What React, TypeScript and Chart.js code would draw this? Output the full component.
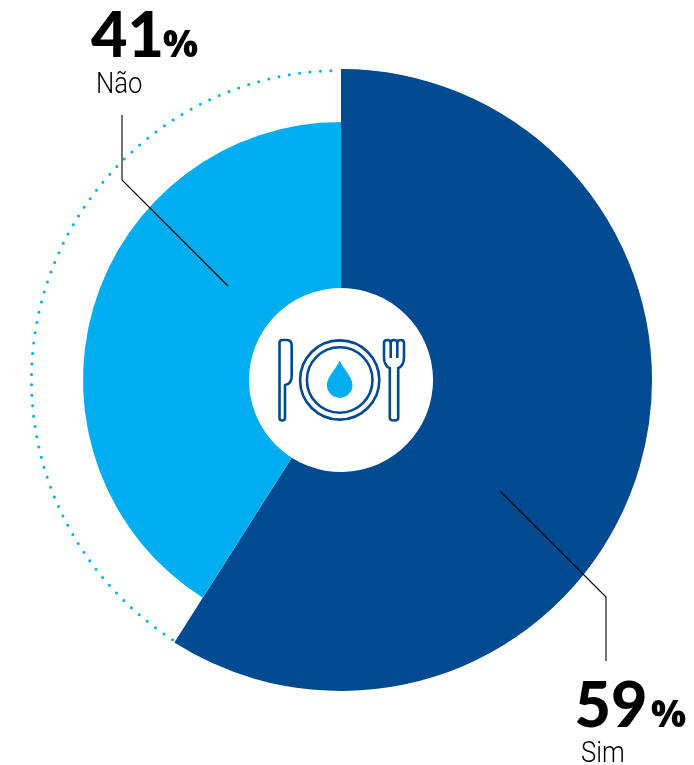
import React, { useEffect, useRef } from "react";
import { Chart, registerables } from "chart.js";

Chart.register(...registerables);

const categories = ["Sim", "Não"];
const shares = [59, 41];

const DARK = "#004a91";
const LIGHT = "#00aeef";
const INK = "#000000";

// The smaller slice stops short of the full radius; its rim is dotted instead.
const SHORT_SLICE_RADIUS = 258;

// Leader lines, as offsets from the centre of the doughnut.
const leaders = [
  [[159, 111], [265, 217], [265, 281]],
  [[-113, -94], [-219, -200], [-219, -265]],
];

// Value and caption anchors, as offsets from the centre of the doughnut.
const labelAnchors = [
  { value: [233.5, 347], percent: [310, 347], caption: [240, 382] },
  { value: [-250, -323], percent: [-178, -323], caption: [-245, -287] },
];

function drawIcon(ctx: CanvasRenderingContext2D, cx: number, cy: number) {
  ctx.save();
  ctx.translate(cx, cy);
  ctx.strokeStyle = DARK;
  ctx.lineWidth = 2.6;
  ctx.lineJoin = "round";

  // plate
  ctx.beginPath();
  ctx.arc(-1.3, 0, 39.6, 0, Math.PI * 2);
  ctx.stroke();
  ctx.beginPath();
  ctx.arc(-1.3, 0, 32.8, 0, Math.PI * 2);
  ctx.stroke();

  // knife
  ctx.beginPath();
  ctx.moveTo(-61.5, 38);
  ctx.lineTo(-61.5, -37);
  ctx.quadraticCurveTo(-61.5, -40, -58.5, -40);
  ctx.lineTo(-54, -40);
  ctx.quadraticCurveTo(-49.3, -40, -49.3, -34);
  ctx.lineTo(-49.3, -4);
  ctx.quadraticCurveTo(-49.3, 4, -56, 5);
  ctx.lineTo(-56, 38);
  ctx.quadraticCurveTo(-56, 40.5, -58.7, 40.5);
  ctx.quadraticCurveTo(-61.5, 40.5, -61.5, 38);
  ctx.closePath();
  ctx.stroke();

  // fork: outline of the head and handle, then the two walls between the tines
  ctx.beginPath();
  ctx.moveTo(48.8, 38);
  ctx.lineTo(48.8, -12);
  ctx.quadraticCurveTo(43, -14, 43, -23);
  ctx.lineTo(43, -37);
  ctx.quadraticCurveTo(43, -40, 46.3, -40);
  ctx.quadraticCurveTo(49.7, -40, 49.7, -37);
  ctx.quadraticCurveTo(49.7, -40, 53, -40);
  ctx.quadraticCurveTo(56.3, -40, 56.3, -37);
  ctx.quadraticCurveTo(56.3, -40, 59.7, -40);
  ctx.quadraticCurveTo(63, -40, 63, -37);
  ctx.lineTo(63, -23);
  ctx.quadraticCurveTo(63, -14, 57.2, -12);
  ctx.lineTo(57.2, 38);
  ctx.quadraticCurveTo(57.2, 40.5, 53, 40.5);
  ctx.quadraticCurveTo(48.8, 40.5, 48.8, 38);
  ctx.closePath();
  ctx.moveTo(49.7, -37);
  ctx.lineTo(49.7, -22);
  ctx.moveTo(56.3, -37);
  ctx.lineTo(56.3, -22);
  ctx.stroke();

  // water drop
  ctx.fillStyle = LIGHT;
  ctx.beginPath();
  ctx.moveTo(-1.3, -19.5);
  ctx.bezierCurveTo(3, -10, 11.5, -3, 11.5, 5);
  ctx.arc(-1.3, 5, 12.8, 0, Math.PI);
  ctx.bezierCurveTo(-14.1, -3, -5.6, -10, -1.3, -19.5);
  ctx.closePath();
  ctx.fill();
  ctx.restore();
}

const doughnutExtras = {
  id: "doughnutExtras",
  beforeDatasetsDraw(chart: any) {
    chart.getDatasetMeta(0).data[1].outerRadius = SHORT_SLICE_RADIUS;
  },
  afterDatasetsDraw(chart: any) {
    const ctx: CanvasRenderingContext2D = chart.ctx;
    const arcs = chart.getDatasetMeta(0).data;
    const { x: cx, y: cy, outerRadius } = arcs[0].getProps(["x", "y", "outerRadius"], true);

    // Dotted rim of the smaller slice, on the radius of the larger one.
    const rim = arcs[1].getProps(["startAngle", "endAngle"], true);
    ctx.save();
    ctx.strokeStyle = LIGHT;
    ctx.lineWidth = 3;
    ctx.lineCap = "round";
    ctx.setLineDash([0, 10.45]);
    ctx.beginPath();
    ctx.arc(cx, cy, outerRadius - 1.5, rim.startAngle + 0.01, rim.endAngle - 0.02);
    ctx.stroke();
    ctx.restore();

    drawIcon(ctx, cx, cy);

    // Leader lines
    ctx.save();
    ctx.strokeStyle = INK;
    ctx.lineWidth = 1.1;
    leaders.forEach((pts) => {
      ctx.beginPath();
      pts.forEach(([dx, dy], i) => {
        if (i === 0) ctx.moveTo(cx + dx, cy + dy);
        else ctx.lineTo(cx + dx, cy + dy);
      });
      ctx.stroke();
    });
    ctx.restore();

    // Value labels
    ctx.save();
    ctx.fillStyle = INK;
    ctx.textAlign = "left";
    ctx.textBaseline = "alphabetic";
    categories.forEach((name, i) => {
      const a = labelAnchors[i];
      ctx.font = '900 63px "Lato"';
      ctx.fillText(String(shares[i]), cx + a.value[0], cy + a.value[1]);
      ctx.font = '800 37px "Open Sans"';
      ctx.fillText("%", cx + a.percent[0], cy + a.percent[1]);
      // Captions are set in a condensed cut of the sans
      ctx.save();
      ctx.translate(cx + a.caption[0], cy + a.caption[1]);
      ctx.scale(0.87, 1);
      ctx.font = '300 29.5px "Roboto"';
      ctx.fillText(name, 0, 0);
      ctx.restore();
    });
    ctx.restore();
  },
};

export default function App() {
  const ref = useRef<HTMLCanvasElement>(null);

  useEffect(() => {
    const chart = new Chart(ref.current!, {
      type: "doughnut",
      data: {
        labels: categories,
        datasets: [
          {
            data: shares,
            backgroundColor: [DARK, LIGHT],
            borderWidth: 0,
          },
        ],
      },
      options: {
        responsive: false,
        animation: false,
        cutout: 92,
        layout: { padding: { left: 30, right: 42, top: 69, bottom: 74 } },
        plugins: { legend: { display: false }, tooltip: { enabled: false } },
      },
      plugins: [doughnutExtras],
    });
    return () => chart.destroy();
  }, []);

  return (
    <div style={{ position: "absolute", left: 0, top: 0, width: 694, height: 765, background: "#fff" }}>
      <canvas ref={ref} width={694} height={765} style={{ display: "block" }} />
    </div>
  );
}
